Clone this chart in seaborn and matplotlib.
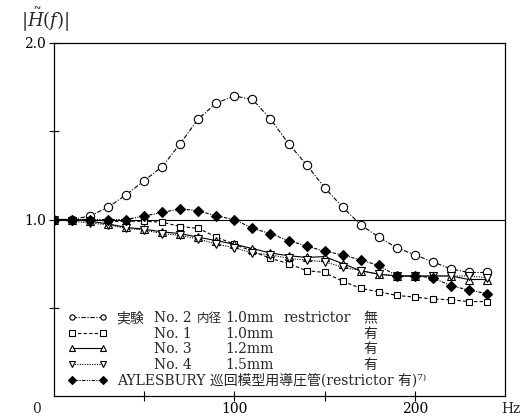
import matplotlib
matplotlib.use("Agg")
import matplotlib.pyplot as plt
import seaborn as sns
import numpy as np

freq = [0, 10, 20, 30, 40, 50, 60, 70, 80, 90, 100, 110, 120, 130, 140, 150,
        160, 170, 180, 190, 200, 210, 220, 230, 240]
no2_d10_free = [1.00, 1.00, 1.02, 1.07, 1.14, 1.22, 1.30, 1.43, 1.57, 1.66, 1.70, 1.68, 1.57,
                1.43, 1.31, 1.18, 1.07, 0.97, 0.90, 0.84, 0.80, 0.76, 0.72, 0.70, 0.70]
no1_d10_restr = [1.00, 1.00, 1.00, 0.99, 0.99, 0.99, 0.985, 0.96, 0.95, 0.90, 0.86, 0.82, 0.78,
                 0.75, 0.71, 0.70, 0.65, 0.61, 0.59, 0.57, 0.56, 0.55, 0.545, 0.535, 0.535]
no3_d12_restr = [1.00, 1.00, 0.99, 0.975, 0.955, 0.945, 0.93, 0.92, 0.90, 0.88, 0.86, 0.835, 0.81,
                 0.795, 0.785, 0.79, 0.75, 0.71, 0.69, 0.68, 0.68, 0.68, 0.68, 0.66, 0.66]
no4_d15_restr = [1.00, 0.99, 0.98, 0.97, 0.95, 0.94, 0.92, 0.91, 0.89, 0.86, 0.84, 0.81, 0.80,
                 0.78, 0.77, 0.76, 0.73, 0.71, 0.69, 0.68, 0.68, 0.68, 0.68, 0.68, 0.67]
aylesbury = [1.00, 1.00, 1.00, 1.00, 1.00, 1.02, 1.04, 1.06, 1.05, 1.02, 1.00, 0.95, 0.92,
             0.88, 0.85, 0.82, 0.80, 0.77, 0.74, 0.68, 0.68, 0.67, 0.625, 0.60, 0.58]

x_tick_pos = [50, 100, 150, 200]
x_tick_labels = ["", "100", "", "200"]
y_tick_pos = [0.5, 1.0, 1.5, 2.0]
y_tick_labels = ["", "1.0", "", "2.0"]

legend_first = ["実験", "実験", "実験", "実験", "AYLESBURY 巡回模型用導圧管(restrictor 有)⁷⁾"]
col_no = ["No. 2", "No. 1", "No. 3", "No. 4"]
col_naikei = ["内径", "", "", ""]
col_dia = ["1.0mm", "1.0mm", "1.2mm", "1.5mm"]
col_restr = ["restrictor", "", "", ""]
col_flag = ["無", "有", "有", "有"]

sns.set_style("ticks")
plt.rcParams["font.family"] = ["DejaVu Serif", "Noto Sans CJK JP"]
plt.rcParams["mathtext.fontset"] = "dejavuserif"

W, H = 524, 417
fig = plt.figure(figsize=(W / 100, H / 100), dpi=100)
ax = fig.add_axes([54 / W, (H - 396) / H, 451 / W, 353 / H])

common = dict(color="black", linewidth=0.8, markeredgecolor="black",
              markeredgewidth=0.8, ax=ax)
series = [
    (no2_d10_free, "o", 6.0, "white", (0, (4, 1.5, 1, 1.5))),
    (no1_d10_restr, "s", 5.0, "white", (0, (3, 2))),
    (no3_d12_restr, "^", 5.5, "white", "-"),
    (no4_d15_restr, "v", 5.5, "white", (0, (1, 1.2))),
    (aylesbury, "D", 5.0, "black", (0, (3, 1.2, 1, 1.2, 1, 1.2))),
]
for vals, mk, ms, fc, ls in series:
    sns.lineplot(x=freq, y=vals, marker=mk, markersize=ms, markerfacecolor=fc,
                 linestyle=ls, **common)

ax.axhline(1.0, color="black", linewidth=0.8, zorder=1)

ax.set_xlim(0, 250)
ax.set_ylim(0, 2.0)
ax.set_xticks(x_tick_pos)
ax.set_xticklabels(x_tick_labels)
ax.set_yticks(y_tick_pos)
ax.set_yticklabels(y_tick_labels)
ax.tick_params(axis="both", direction="inout", length=7.5, width=0.8,
               labelsize=10, color="black", labelcolor="black")
ax.tick_params(axis="x", pad=0.5)
ax.tick_params(axis="y", pad=2)
for sp in ax.spines.values():
    sp.set_visible(True)
    sp.set_color("black")
    sp.set_linewidth(0.9)

xt = ax.get_xaxis_transform()
ax.text(-9.5, -6 / 353, "0", transform=xt, ha="center", va="top", fontsize=10)
ax.text(253, -6 / 353, "Hz", transform=xt, ha="center", va="top", fontsize=10,
        clip_on=False)

fig.text(21 / W, 1 - 20 / H, r"$|\tilde{H}(f)|$", ha="left", va="center", fontsize=13)

handles = ax.get_lines()[:5]
leg = ax.legend(handles, legend_first, loc="upper left",
                bbox_to_anchor=((68 - 54) / 451, (396 - 311) / 353),
                frameon=False, fontsize=10, borderpad=0, borderaxespad=0,
                handlelength=2.8, handletextpad=0.7, labelspacing=0.12,
                numpoints=2)
for h in leg.legend_handles:
    h.set_markersize(3.8)
for t in leg.get_texts()[1:4]:
    t.set_color("none")

fig.canvas.draw()
texts = leg.get_texts()
for i in range(4):
    t = texts[i]
    bx, by = t.get_transform().transform(t.get_position())
    for xpx, s, fs in [(154, col_no[i], 10), (197, col_naikei[i], 9), (225, col_dia[i], 10),
                       (283, col_restr[i], 10), (363, col_flag[i], 10)]:
        if s:
            fig.text(xpx / W, by / H, s, ha="left", va="baseline", fontsize=fs)

fig.savefig("out.png", dpi=100)
